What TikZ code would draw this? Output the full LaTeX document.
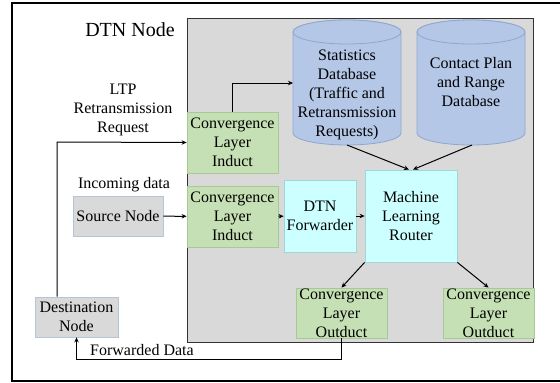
\documentclass[tikz,border=0pt]{standalone}
\usepackage{fontspec}
\setmainfont{Liberation Serif}
\usetikzlibrary{arrows.meta,calc}
\definecolor{panelgray}{HTML}{D9D9D9}
\definecolor{cl}{HTML}{C5E0B4}
\definecolor{clborder}{HTML}{A8C896}
\definecolor{cyanbox}{HTML}{CCFFFF}
\definecolor{cyanborder}{HTML}{9FD6D6}
\definecolor{dbfill}{HTML}{B4C7E7}
\definecolor{dbborder}{HTML}{8FA6CF}
\definecolor{extborder}{HTML}{B7C3D6}
\tikzset{
  txt/.style={font=\fontsize{16}{19}\selectfont, align=center, inner sep=0pt},
  clbox/.style={txt, draw=clborder, fill=cl, line width=0.8pt},
  cybox/.style={txt, draw=cyanborder, fill=cyanbox, line width=0.8pt},
  extbox/.style={txt, draw=extborder, fill=panelgray, line width=0.8pt},
  conn/.style={draw=black, line width=1pt, -{Stealth[length=5pt,width=4.5pt]}},
  dbbody/.style={fill=dbfill, draw=dbborder, line width=0.8pt}
}
\newcommand{\dbcyl}[4]{% x-left, x-right, top-ellipse centre y, bottom-ellipse centre y
  \pgfmathsetmacro{\rx}{(#2-#1)/2}
  \pgfmathsetmacro{\cx}{(#1+#2)/2}
  \path[dbbody] (#1,#3) -- (#1,#4) arc[start angle=180, end angle=360, x radius=\rx, y radius=-12]
     -- (#2,#3) arc[start angle=0, end angle=180, x radius=\rx, y radius=-12] -- cycle;
  \path[dbbody] (\cx,#3) ellipse[x radius=\rx, y radius=12];
}
\begin{document}
\begin{tikzpicture}[x=1pt,y=-1pt]
\useasboundingbox (0,0) rectangle (560,383);
\clip (0,0) rectangle (560,383);

% outer frame and DTN node panel
\draw[line width=1.6pt] (12,3) rectangle (570,381);
\draw[fill=panelgray, draw=black!80, line width=1pt] (187,18) rectangle (533,342);
\node[txt, font=\fontsize{20}{24}\selectfont] (title) at (130,30) {DTN Node};

% databases
\dbcyl{293}{401}{32}{133}
\dbcyl{417}{525}{32}{133}
\node[txt] (stat) at (347,95) {Statistics\\Database\\(Traffic and\\Retransmission\\Requests)};
\node[txt] (contact) at (471,82) {Contact Plan\\and Range\\Database};
\coordinate (statin) at (293,83);
\coordinate (statout) at (347,145);
\coordinate (contout) at (472,145);

% processing blocks
\node[clbox, minimum width=91pt, minimum height=61pt] (cli1) at (232.5,142.5) {Convergence\\Layer\\Induct};
\node[clbox, minimum width=91pt, minimum height=61pt] (cli2) at (232.5,216.5) {Convergence\\Layer\\Induct};
\node[cybox, minimum width=72pt, minimum height=72pt] (fwd) at (320,216) {DTN\\Forwarder};
\node[cybox, minimum width=92pt, minimum height=92pt] (mlr) at (411,216) {Machine\\Learning\\Router};
\node[clbox, minimum width=91pt, minimum height=50pt] (out1) at (341.5,313) {Convergence\\Layer\\Outduct};
\node[clbox, minimum width=91pt, minimum height=50pt] (out2) at (488.5,313) {Convergence\\Layer\\Outduct};

% external nodes
\node[extbox, minimum width=90pt, minimum height=40pt] (src) at (118,216) {Source Node};
\node[extbox, minimum width=83pt, minimum height=40pt] (dst) at (76.5,317) {Destination\\Node};

% labels
\node[txt] (ltp) at (123,110) {LTP\\Retransmission\\Request};
\node[txt] (incoming) at (124,185) {Incoming data};
\node[txt, anchor=west] (fwdlabel) at (90,350) {Forwarded Data};

% connectors
\coordinate (ltpcorner) at (57,142);
\coordinate (fwdcorner) at (0,359);
\draw[conn] (dst.north -| ltpcorner) -- (ltpcorner) -- (cli1.west);
\draw[conn] (cli1.north) |- (statin);
\draw[conn] (src) -- (cli2);
\draw[conn] (cli2) -- (fwd);
\draw[conn] (fwd) -- (mlr);
\draw[conn] (statout) -- ($(mlr.north)+(-2,0)$);
\draw[conn] (contout) -- ($(mlr.north)+(2,0)$);
\draw[conn] (mlr.south west) -- (out1.north);
\draw[conn] (mlr.south east) -- (out2.north);
\draw[conn] (out1.south) -- (out1.south |- fwdcorner) -- (dst.south |- fwdcorner) -- (dst.south);
\end{tikzpicture}
\end{document}
